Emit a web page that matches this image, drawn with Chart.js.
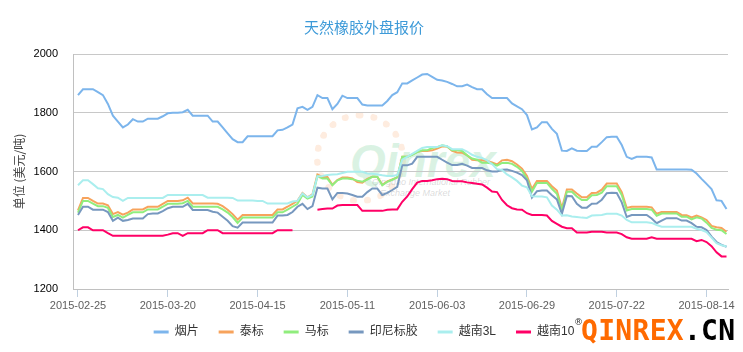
<!DOCTYPE html>
<html>
<head>
<meta charset="utf-8">
<script src="https://cdn.jsdelivr.net/npm/chart.js@4/dist/chart.umd.min.js"></script>
<style>
  html, body { margin: 0; padding: 0; background: #fff; }
  #wrap { position: relative; width: 743px; height: 352px; overflow: hidden; }
  #c { position: absolute; left: 0; top: 0; }
  .logo-ring { position: absolute; left: 314px; top: 112px; width: 92px; height: 92px; border-radius: 50%;
    border: 7px dotted rgba(250, 185, 140, 0.28); box-sizing: border-box; }
  .logo-text { position: absolute; left: 350px; top: 134px; font: italic bold 46px "Liberation Sans", sans-serif;
    color: rgba(150, 220, 175, 0.35); white-space: nowrap; }
  .logo-sub { position: absolute; font: italic 9px "Liberation Sans", sans-serif; color: rgba(150, 150, 150, 0.35); white-space: nowrap; }
  #brand { position: absolute; left: 581px; top: 317px; font: bold 28px "DejaVu Sans Mono", monospace; line-height: 1;
    letter-spacing: 0.3px; white-space: nowrap; }
  #brand .o { color: #ff6a00; }
  #brand .k { color: #000; }
  #reg { position: absolute; left: 574px; top: 318px; font: 9px "DejaVu Sans", sans-serif; color: #333; background: #fff; line-height: 1; }
</style>
</head>
<body>
<div id="wrap">
  <div class="logo-ring"></div>
  <div class="logo-text">Qinrex</div>
  <div class="logo-sub" style="left:372px; top:177px;">Qingdao International Rubber</div>
  <div class="logo-sub" style="left:380px; top:188px;">Exchange Market</div>
  <canvas id="c" width="743" height="352"></canvas>
  <div id="reg">®</div>
  <div id="brand"><span class="o">QINREX</span><span class="k">.CN</span></div>
</div>
<script>
// x axis: one point per trading day, labels every 18 points
const xTickLabels = ['2015-02-25', '2015-03-20', '2015-04-15', '2015-05-11', '2015-06-03', '2015-06-29', '2015-07-22', '2015-08-14'];
const xTickIndex = [0, 18, 36, 54, 72, 90, 108, 126];

const seriesNames = ['烟片', '泰标', '马标', '印尼标胶', '越南3L', '越南10'];
const seriesColors = ['#7cb5ec', '#f7a35c', '#90ed7d', '#7798bf', '#aaeeee', '#ff0066'];

const yanpian = [1860,1880,1880,1880,1870,1860,1830,1790,1770,1750,
  1760,1778,1770,1770,1780,1780,1780,1788,1798,1800,
  1800,1802,1810,1790,1790,1790,1790,1770,1770,1750,
  1730,1710,1700,1700,1720,1720,1720,1720,1720,1720,
  1740,1742,1750,1760,1815,1820,1810,1820,1860,1850,
  1850,1812,1830,1858,1850,1850,1850,1828,1825,1825,
  1825,1825,1840,1860,1870,1900,1900,1910,1920,1930,
  1932,1922,1912,1910,1905,1898,1890,1890,1896,1887,
  1880,1880,1863,1850,1850,1850,1850,1832,1822,1812,
  1792,1743,1750,1768,1768,1745,1728,1671,1670,1679,
  1671,1670,1670,1684,1684,1700,1717,1718,1718,1690,
  1650,1643,1650,1650,1650,1648,1607,1607,1607,1607,
  1607,1607,1607,1606,1593,1575,1558,1540,1502,1500,
  1472];

const taibiao = [1468,1510,1510,1500,1491,1491,1485,1455,1462,1453,
  1460,1471,1471,1471,1480,1480,1480,1490,1500,1500,
  1500,1502,1511,1491,1491,1491,1491,1491,1490,1482,
  1470,1455,1436,1452,1452,1452,1452,1452,1452,1452,
  1471,1471,1480,1490,1500,1527,1512,1522,1590,1581,
  1581,1555,1571,1580,1580,1576,1564,1562,1575,1582,
  1582,1555,1566,1573,1580,1650,1650,1658,1667,1670,
  1670,1672,1678,1686,1685,1670,1665,1664,1655,1640,
  1638,1638,1636,1631,1624,1638,1640,1635,1624,1610,
  1585,1540,1568,1568,1568,1550,1535,1475,1539,1539,
  1525,1512,1512,1527,1528,1538,1559,1559,1559,1530,
  1476,1480,1480,1480,1480,1478,1456,1462,1462,1462,
  1462,1452,1451,1444,1450,1444,1435,1415,1410,1408,
  1395];

const mabiao = [1460,1500,1500,1491,1482,1482,1476,1445,1452,1443,
  1452,1461,1461,1461,1471,1471,1471,1480,1490,1490,
  1490,1492,1500,1480,1480,1480,1480,1480,1480,1471,
  1460,1445,1425,1443,1443,1443,1443,1443,1443,1443,
  1461,1461,1470,1480,1490,1520,1508,1515,1585,1576,
  1576,1553,1570,1576,1576,1574,1569,1565,1572,1582,
  1582,1553,1565,1572,1580,1650,1650,1657,1666,1672,
  1672,1680,1683,1689,1685,1672,1672,1670,1655,1644,
  1640,1630,1630,1627,1620,1629,1630,1626,1616,1602,
  1576,1531,1561,1561,1561,1541,1524,1468,1531,1531,
  1515,1503,1503,1519,1520,1528,1550,1550,1550,1520,
  1467,1472,1472,1472,1472,1470,1449,1457,1457,1457,
  1457,1446,1446,1437,1444,1440,1426,1408,1402,1400,
  1387];

const yinni = [1452,1480,1480,1470,1470,1470,1462,1432,1443,1432,
  1435,1440,1440,1440,1455,1457,1457,1465,1475,1480,
  1480,1480,1490,1469,1469,1469,1469,1463,1460,1446,
  1432,1414,1409,1426,1426,1426,1426,1426,1426,1426,
  1450,1450,1452,1462,1480,1490,1472,1482,1545,1542,
  1542,1505,1527,1527,1525,1520,1514,1514,1530,1542,
  1542,1520,1527,1537,1548,1621,1621,1627,1650,1650,
  1650,1650,1650,1640,1630,1622,1622,1626,1620,1612,
  1612,1612,1604,1600,1600,1606,1607,1602,1596,1588,
  1570,1511,1533,1535,1535,1519,1505,1456,1517,1516,
  1490,1477,1477,1490,1491,1504,1526,1528,1527,1495,
  1445,1452,1452,1452,1452,1440,1424,1433,1441,1441,
  1441,1433,1433,1424,1412,1410,1401,1378,1360,1350,
  1344];

const yuenan3L = [1553,1570,1570,1557,1543,1540,1523,1513,1511,1500,
  1510,1510,1510,1510,1510,1510,1510,1510,1520,1520,
  1520,1520,1520,1520,1520,1520,1511,1511,1511,1511,
  1511,1510,1501,1501,1501,1501,1500,1500,1491,1491,
  1491,1491,1491,1498,1500,1525,1512,1520,1584,1585,
  1588,1590,1591,1595,1599,1599,1599,1599,1593,1592,
  1590,1587,1585,1585,1588,1640,1650,1660,1670,1680,
  1683,1683,1683,1689,1686,1676,1676,1676,1668,1657,
  1650,1646,1638,1625,1608,1605,1590,1580,1568,1552,
  1546,1516,1515,1515,1512,1484,1470,1450,1451,1447,
  1445,1443,1442,1450,1451,1452,1456,1456,1456,1450,
  1435,1427,1427,1427,1427,1425,1418,1412,1412,1412,
  1412,1412,1412,1412,1405,1401,1394,1375,1356,1349,
  1345];

const yuenan10 = [1400,1410,1410,1400,1400,1400,1390,1381,1381,1381,
  1381,1381,1381,1381,1381,1381,1381,1381,1385,1390,
  1390,1381,1390,1390,1390,1390,1400,1400,1400,1390,
  1390,1390,1390,1390,1390,1390,1390,1390,1390,1390,
  1400,1400,1400,1400,null,null,null,null,1470,1472,
  1474,1474,1484,1486,1486,1486,1486,1466,1466,1466,
  1466,1466,1470,1471,1471,1497,1515,1540,1562,1568,
  1568,1570,1574,1575,1574,1568,1567,1567,1563,1561,
  1558,1556,1545,1532,1530,1503,1485,1475,1471,1470,
  1458,1452,1452,1452,1450,1432,1422,1412,1407,1407,
  1392,1392,1392,1395,1395,1395,1392,1392,1392,1387,
  1376,1371,1371,1371,1371,1376,1371,1371,1371,1371,
  1371,1371,1371,1371,1363,1367,1360,1346,1325,1311,
  1311];

const seriesData = [yanpian, taibiao, mabiao, yinni, yuenan3L, yuenan10];

Chart.defaults.font.family = '"Liberation Sans", "Noto Sans CJK SC", sans-serif';

const ctx = document.getElementById('c').getContext('2d');
new Chart(ctx, {
  type: 'line',
  data: {
    labels: yanpian.map((_, i) => i),
    datasets: seriesNames.map((name, k) => ({
      label: name,
      data: seriesData[k],
      borderColor: seriesColors[k],
      backgroundColor: seriesColors[k],
      borderWidth: 2,
      pointRadius: 0,
      tension: 0,
      order: seriesNames.length - k // later series drawn on top
    }))
  },
  options: {
    responsive: false,
    animation: false,
    layout: { padding: { left: 0, right: 15, top: 0, bottom: 4 } },
    plugins: {
      tooltip: { enabled: false },
      title: {
        display: true,
        text: '天然橡胶外盘报价',
        color: '#3d9ad8',
        font: { family: '"Noto Sans CJK SC", sans-serif', size: 15, weight: 'normal' },
        padding: { top: 18, bottom: 18 }
      },
      legend: {
        position: 'bottom',
        labels: {
          boxWidth: 15,
          boxHeight: 3,
          padding: 20,
          color: '#333',
          font: { size: 12 },
          sort: (a, b) => a.datasetIndex - b.datasetIndex,
          generateLabels: (chart) => Chart.defaults.plugins.legend.labels.generateLabels(chart)
            .map(l => ({ ...l, lineWidth: 0 }))
        }
      }
    },
    scales: {
      x: {
        type: 'linear',
        min: -1,
        max: 130.3,
        afterBuildTicks: (s) => { s.ticks = xTickIndex.map(v => ({ value: v })); },
        afterFit: (s) => {
          s.height = 17;
          s._computeLabelArea = () => undefined; // let the date labels run below the short axis box
        },
        ticks: {
          autoSkip: false,
          maxRotation: 0,
          color: '#606060',
          font: { size: 11 },
          padding: 2,
          callback: (v) => xTickLabels[xTickIndex.indexOf(v)]
        },
        grid: { drawOnChartArea: false, drawTicks: true, tickLength: 8, color: '#c0d0e0' },
        border: { color: '#c0c0c0' }
      },
      y: {
        min: 1200,
        max: 2000,
        afterFit: (s) => { s.width = 73; },
        ticks: { stepSize: 200, color: '#000', font: { size: 11 }, padding: 15, callback: (v) => String(v) },
        grid: { color: '#c8c8c8', drawTicks: false },
        border: { color: '#c0c0c0' },
        title: {
          display: true,
          text: '单位 (美元/吨)',
          color: '#444',
          font: { family: '"Noto Sans CJK SC", sans-serif', size: 12 },
          padding: { top: 12, bottom: 0 }
        }
      }
    }
  }
});
</script>
</body>
</html>
